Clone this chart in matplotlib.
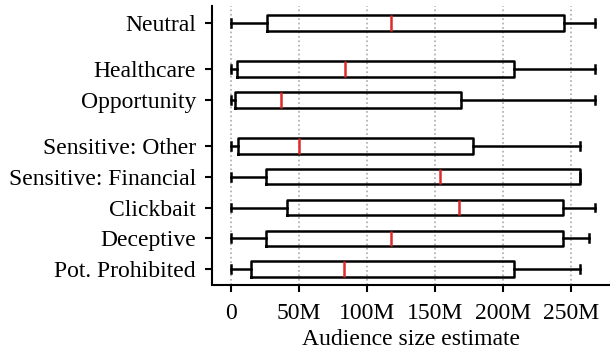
import matplotlib.pyplot as plt
from matplotlib.ticker import FuncFormatter

plt.rcParams['font.family'] = ['Liberation Serif', 'DejaVu Serif']

# Data (in millions)
labels = ['Pot. Prohibited', 'Deceptive', 'Clickbait', 'Sensitive: Financial',
          'Sensitive: Other', 'Opportunity', 'Healthcare', 'Neutral']
positions = [0, 1, 2, 3, 4, 5.5, 6.5, 8]
whislo = [0, 0, 0, 0, 0, 0, 0, 0]
q1 = [14.7, 25.8, 40.8, 25.8, 4.9, 3.0, 4.7, 26.3]
med = [82.8, 118, 168, 154, 50.1, 36.8, 83.5, 118]
q3 = [208, 244.4, 244.4, 257, 178, 169.5, 208, 245]
whishi = [257, 263, 268, 257, 257, 268, 268, 268]

stats = []
for i in range(len(labels)):
    stats.append({'label': labels[i], 'whislo': whislo[i] * 1e6, 'q1': q1[i] * 1e6,
                  'med': med[i] * 1e6, 'q3': q3[i] * 1e6, 'whishi': whishi[i] * 1e6,
                  'fliers': []})

fig = plt.figure(figsize=(6.1, 3.58), dpi=100)
ax = fig.add_axes([212 / 610, 1 - 284.5 / 358, (609 - 212) / 610, (284.5 - 6) / 358])

ax.bxp(stats, positions=positions, vert=False, widths=0.5, showfliers=False,
       boxprops=dict(color='black', linewidth=1.8),
       whiskerprops=dict(color='black', linewidth=1.8),
       capprops=dict(color='black', linewidth=1.8),
       medianprops=dict(color='#dd2a2a', linewidth=1.8),
       capwidths=0.25)

ax.set_xlim(-14e6, 278e6)
ax.set_ylim(-0.5, 8.55)
ax.set_xticks([0, 50e6, 100e6, 150e6, 200e6, 250e6])
ax.xaxis.set_major_formatter(FuncFormatter(lambda v, p: '0' if v == 0 else '%dM' % (v / 1e6)))
ax.set_yticks(positions)
ax.set_yticklabels(labels)
ax.tick_params(labelsize=17, width=1.5, length=5, pad=6.5)
ax.tick_params(axis='x', pad=8.5)
ax.set_xlabel('Audience size estimate', fontsize=17, labelpad=3.5)
ax.xaxis.grid(True, linestyle=':', color='#aaaaaa', linewidth=1.2)
ax.set_axisbelow(True)
for s in ['top', 'right']:
    ax.spines[s].set_visible(False)
for s in ['left', 'bottom']:
    ax.spines[s].set_linewidth(1.5)

fig.savefig('out.png', dpi=100)
